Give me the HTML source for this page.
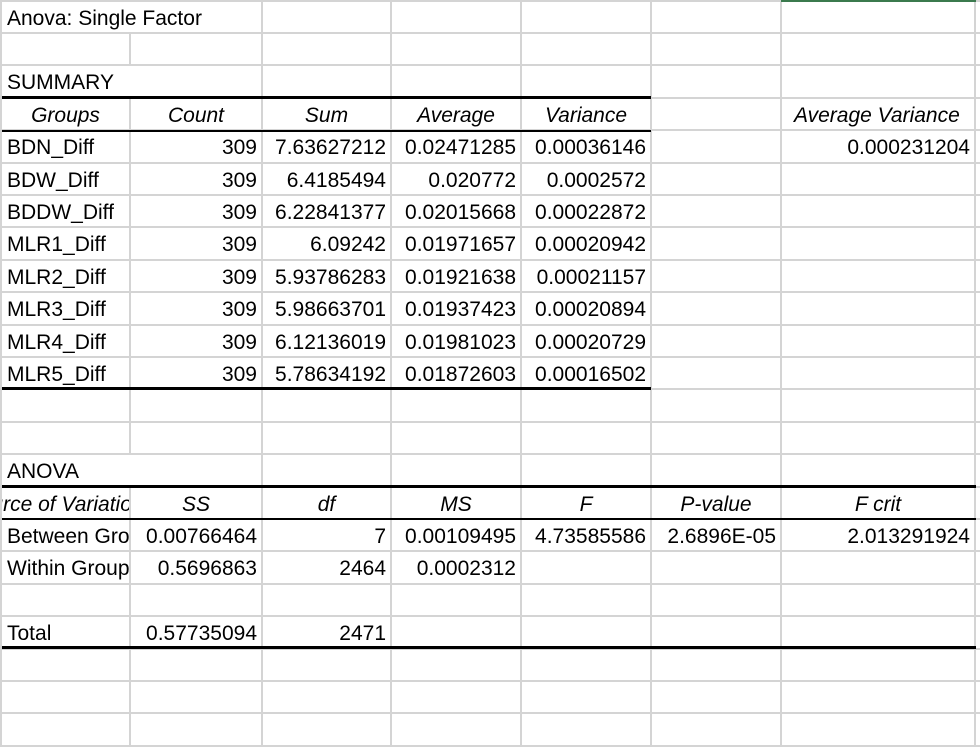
<!DOCTYPE html>
<html><head><meta charset="utf-8">
<style>
html,body{margin:0;padding:0;background:#fff;}
#sheet{position:relative;width:980px;height:748px;overflow:hidden;background:#fff;font-family:"Liberation Sans",sans-serif;font-size:21px;color:#000;}
.v,.h{position:absolute;background:#d4d4d4;}
.t{position:absolute;white-space:nowrap;overflow:hidden;height:32px;line-height:35px;}
.r{text-align:right;}
.c{text-align:center;}
.i{font-style:italic;}
.b{position:absolute;background:#000;}
</style></head>
<body>
<div id="sheet"></div>
<script>
const cols=[1,130,262,391,521,651,781,975];
const rowH=32.4;
const nRows=23;
const noVline={0:[130],2:[130],14:[130]};
const sheet=document.getElementById('sheet');
function rowTop(i){return i*rowH+0.5;}
for(let i=0;i<=nRows;i++){
  const d=document.createElement('div');d.className='h';
  
  
  d.style.left='0px';d.style.width='980px';d.style.top=(rowTop(i)-1)+'px';d.style.height='2px';
  sheet.appendChild(d);
}
for(let i=0;i<nRows;i++){
  cols.forEach(x=>{
    if(noVline[i]&&noVline[i].includes(x))return;
    const d=document.createElement('div');d.className='v';
    
    
    d.style.left=(x-1)+'px';d.style.width='2px';d.style.top=rowTop(i)+'px';d.style.height=rowH+'px';
    sheet.appendChild(d);
  });
}
const g=document.createElement('div');


g.style.cssText='position:absolute;left:781px;top:0;width:195px;height:2px;background:#3b7a4e;';
sheet.appendChild(g);
function bline(y,x1,x2,h,name){
  const d=document.createElement('div');d.className='b';
  
  
  d.style.left=x1+'px';d.style.width=(x2-x1)+'px';d.style.top=(y-h/2)+'px';d.style.height=h+'px';
  sheet.appendChild(d);
}
bline(97.5,2,651,3,'summary-top-border');
bline(130.5,2,651,2,'summary-header-border');
bline(388.5,2,651,3,'summary-bottom-border');
bline(486,2,976,3,'anova-top-border');
bline(519,2,976,2,'anova-header-border');
bline(647.5,2,976,3,'anova-bottom-border');
const cells=[
 [0,0,3,'Anova: Single Factor','l',0],
 [2,0,1,'SUMMARY','l',0],
 [3,0,1,'Groups','c',1],[3,1,1,'Count','c',1],[3,2,1,'Sum','c',1],[3,3,1,'Average','c',1],[3,4,1,'Variance','c',1],[3,6,1,'Average Variance','c',1],
 [4,6,1,'0.000231204','r',0],
 [14,0,1,'ANOVA','l',0],
 [15,0,1,'Source of Variation','c',1],[15,1,1,'SS','c',1],[15,2,1,'df','c',1],[15,3,1,'MS','c',1],[15,4,1,'F','c',1],[15,5,1,'P-value','c',1],[15,6,1,'F crit','c',1],
 [16,0,1,'Between Groups','l',0],[16,1,1,'0.00766464','r',0],[16,2,1,'7','r',0],[16,3,1,'0.00109495','r',0],[16,4,1,'4.73585586','r',0],[16,5,1,'2.6896E-05','r',0],[16,6,1,'2.013291924','r',0],
 [17,0,1,'Within Groups','l',0],[17,1,1,'0.5696863','r',0],[17,2,1,'2464','r',0],[17,3,1,'0.0002312','r',0],
 [19,0,1,'Total','l',0],[19,1,1,'0.57735094','r',0],[19,2,1,'2471','r',0]
];
const groups=['BDN_Diff','BDW_Diff','BDDW_Diff','MLR1_Diff','MLR2_Diff','MLR3_Diff','MLR4_Diff','MLR5_Diff'];
const counts=['309','309','309','309','309','309','309','309'];
const sums=['7.63627212','6.4185494','6.22841377','6.09242','5.93786283','5.98663701','6.12136019','5.78634192'];
const avgs=['0.02471285','0.020772','0.02015668','0.01971657','0.01921638','0.01937423','0.01981023','0.01872603'];
const vars=['0.00036146','0.0002572','0.00022872','0.00020942','0.00021157','0.00020894','0.00020729','0.00016502'];
groups.forEach((gname,k)=>{
  cells.push([4+k,0,1,gname,'l',0],[4+k,1,1,counts[k],'r',0],[4+k,2,1,sums[k],'r',0],[4+k,3,1,avgs[k],'r',0],[4+k,4,1,vars[k],'r',0]);
});
cells.forEach(c=>{
  const [r,ci,span,txt,al,it]=c;
  const d=document.createElement('div');
  d.className='t'+(al==='r'?' r':al==='c'?' c':'')+(it?' i':'');
  
  
  const x1=cols[ci],x2=cols[ci+span];
  d.style.left=(x1+1)+'px';d.style.width=(x2-x1-2)+'px';d.style.top=rowTop(r)+'px';
  if(al==='l'){d.style.paddingLeft='5px';d.style.width=(x2-x1-7)+'px';}
  if(al==='r'){d.style.paddingRight='4px';d.style.width=(x2-x1-6)+'px';}
  if(al==='c'&&txt.length>12&&span===1){d.style.textAlign='left';d.style.textIndent=((x2-x1-2-txt.length*10.5)/2)+'px';}
  d.textContent=txt;
  sheet.appendChild(d);
});
</script>
</body></html>
